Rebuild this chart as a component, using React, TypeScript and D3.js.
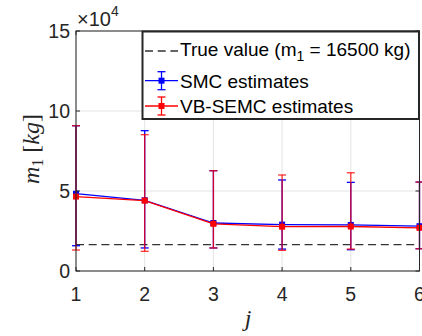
import React from 'react';
import * as d3 from 'd3';

// x positions (j)
const stages = [1, 2, 3, 4, 5, 6];

// SMC estimates (x1e4 kg)
const smcMean = [4.83, 4.42, 3.0, 2.9, 2.88, 2.8];
const smcUpper = [9.08, 8.77, 6.27, 5.69, 5.54, 5.56];
const smcLower = [1.58, 1.44, 1.44, 1.37, 1.33, 1.39];

// VB-SEMC estimates (x1e4 kg)
const vbMean = [4.65, 4.4, 2.95, 2.77, 2.78, 2.7];
const vbUpper = [9.08, 8.52, 6.27, 6.0, 6.14, 5.56];
const vbLower = [1.31, 1.23, 1.44, 1.29, 1.37, 1.39];

const trueValue = 1.65; // 16500 kg
const yTicks = [0, 5, 10, 15];
const xTicks = [1, 2, 3, 4, 5, 6];

const App = () => {
  const width = 422;
  const height = 336;
  const left = 76;
  const right = 419.5;
  const top = 31;
  const bottom = 271;

  const x = d3.scaleLinear().domain([1, 6]).range([left, right]);
  const y = d3.scaleLinear().domain([0, 15]).range([bottom, top]);

  const axisColor = '#262626';
  const gridColor = '#e3e3e3';
  const sans = '"Liberation Sans", Arial, Helvetica, sans-serif';
  const serif = '"Liberation Serif", "DejaVu Serif", serif';

  const line = d3.line<number>()
    .x((_, i) => x(stages[i]))
    .y(d => y(d));

  const series = [
    { name: 'SMC', color: '#0000ff', mean: smcMean, lo: smcLower, hi: smcUpper, opacity: 1 },
    { name: 'VB', color: '#ff0000', mean: vbMean, lo: vbLower, hi: vbUpper, opacity: 0.8 },
  ];

  const cap = 4;
  const mk = 3;

  return (
    <svg width={width} height={height} style={{ position: 'absolute', left: 0, top: 0, background: '#fff' }}>
      {/* grid */}
      {xTicks.map(t => (
        <line key={'gx' + t} x1={x(t)} x2={x(t)} y1={top} y2={bottom} stroke={gridColor} strokeWidth={1} />
      ))}
      {yTicks.map(t => (
        <line key={'gy' + t} x1={left} x2={right} y1={y(t)} y2={y(t)} stroke={gridColor} strokeWidth={1} />
      ))}

      {/* true value */}
      <line x1={left} x2={right} y1={y(trueValue)} y2={y(trueValue)}
        stroke="#333" strokeWidth={1.3} strokeDasharray="8,4.7" />

      {/* series */}
      {series.map(s => (
        <g key={s.name}>
          {stages.map((st, i) => (
            <g key={i} stroke={s.color} strokeOpacity={s.opacity} strokeWidth={1.3}>
              <line x1={x(st)} x2={x(st)} y1={y(s.hi[i])} y2={y(s.lo[i])} />
              <line x1={x(st) - cap} x2={x(st) + cap} y1={y(s.hi[i])} y2={y(s.hi[i])} />
              <line x1={x(st) - cap} x2={x(st) + cap} y1={y(s.lo[i])} y2={y(s.lo[i])} />
            </g>
          ))}
          <path d={line(s.mean) || ''} fill="none" stroke={s.color} strokeWidth={1.3} />
          {stages.map((st, i) => (
            <rect key={'m' + i} x={x(st) - mk} y={y(s.mean[i]) - mk} width={mk * 2} height={mk * 2} fill={s.color} />
          ))}
        </g>
      ))}

      {/* axes box */}
      <rect x={left} y={top} width={right - left} height={bottom - top} fill="none" stroke={axisColor} strokeWidth={1} />
      {xTicks.map(t => (
        <g key={'tx' + t}>
          <line x1={x(t)} x2={x(t)} y1={bottom} y2={bottom - 4} stroke={axisColor} />
          <line x1={x(t)} x2={x(t)} y1={top} y2={top + 4} stroke={axisColor} />
          <text x={x(t)} y={300.5} textAnchor="middle" fontFamily={sans} fontSize={19.5} fill={axisColor}>{t}</text>
        </g>
      ))}
      {yTicks.map(t => (
        <g key={'ty' + t}>
          <line x1={left} x2={left + 4} y1={y(t)} y2={y(t)} stroke={axisColor} />
          <line x1={right} x2={right - 4} y1={y(t)} y2={y(t)} stroke={axisColor} />
          <text x={70} y={y(t) + 7} textAnchor="end" fontFamily={sans} fontSize={19.5} fill={axisColor}>{t}</text>
        </g>
      ))}

      {/* exponent */}
      <text x={77} y={26} fontFamily={sans} fontSize={20} fill={axisColor}>
        ×10<tspan fontSize={14} dy={-10}>4</tspan>
      </text>

      {/* axis labels */}
      <text transform="translate(39,149) rotate(-90)" textAnchor="middle" fontFamily={serif} fontSize={24} fill={axisColor}>
        <tspan fontStyle="italic">m</tspan>
        <tspan fontSize={16} dy={4}>1</tspan>
        <tspan dy={-4}> [</tspan>
        <tspan fontStyle="italic">kg</tspan>
        <tspan>]</tspan>
      </text>
      <text x={248} y={326} textAnchor="middle" fontFamily={serif} fontStyle="italic" fontSize={24} fill={axisColor}>j</text>

      {/* legend */}
      <g>
        <rect x={142.5} y={31.5} width={276.5} height={87.5} fill="#fff" stroke={axisColor} strokeWidth={2} />
        <line x1={145} x2={178} y1={51} y2={51} stroke="#333" strokeWidth={1.3} strokeDasharray="8,4.7" />
        <text x={180} y={55.5} fontFamily={sans} fontSize={19} fill="#000">
          True value (m<tspan fontSize={14} dy={5}>1</tspan><tspan dy={-5}> = 16500 kg)</tspan>
        </text>
        {[{ c: '#0000ff', yy: 80.7, label: 'SMC estimates' }, { c: '#ff0000', yy: 106, label: 'VB-SEMC estimates' }].map(e => (
          <g key={e.label}>
            <g stroke={e.c} strokeWidth={1.3}>
              <line x1={145} x2={178} y1={e.yy} y2={e.yy} />
              <line x1={161.5} x2={161.5} y1={e.yy - 9} y2={e.yy + 9} />
              <line x1={161.5 - cap} x2={161.5 + cap} y1={e.yy - 9} y2={e.yy - 9} />
              <line x1={161.5 - cap} x2={161.5 + cap} y1={e.yy + 9} y2={e.yy + 9} />
            </g>
            <rect x={161.5 - mk} y={e.yy - mk} width={mk * 2} height={mk * 2} fill={e.c} />
            <text x={180} y={e.yy + 7} fontFamily={sans} fontSize={19} fill="#000">{e.label}</text>
          </g>
        ))}
      </g>
    </svg>
  );
};

export default App;
